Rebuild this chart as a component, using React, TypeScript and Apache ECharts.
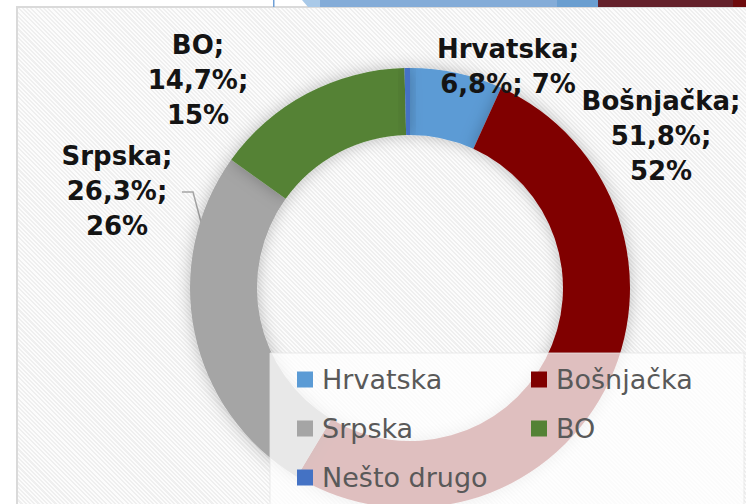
import React, { useEffect, useRef } from "react";
import * as echarts from "echarts";

const categories = ["Hrvatska", "Bošnjačka", "Srpska", "BO", "Nešto drugo"];
const values = [6.8, 51.8, 26.3, 14.7, 0.4];
const colors = ["#5B9BD5", "#800000", "#A5A5A5", "#548235", "#4472C4"];
// label block centres (layout only)
const labelPos: (number[] | null)[] = [[508, 66], [661, 136], [117, 191], [198, 80], null];

const fmt = (v: number) => v.toFixed(1).replace(".", ",");

export default function App() {
  const ref = useRef<HTMLDivElement>(null);
  useEffect(() => {
    if (!ref.current) return;
    const chart = echarts.init(ref.current, undefined, { renderer: "svg" });
    chart.setOption({
      animation: false,
      backgroundColor: "transparent",
      graphic: [
        { type: "rect", z: 0, shape: { x: 273, y: 0, width: 1.5, height: 7 }, style: { fill: "#6f9fd6" } },
        { type: "polygon", z: 0, shape: { points: [[302, 0], [320, 0], [320, 7], [308, 7]] }, style: { fill: "#a9c9e8" } },
        { type: "rect", z: 0, shape: { x: 320, y: 0, width: 237, height: 7 }, style: { fill: "#84acd8" } },
        { type: "rect", z: 0, shape: { x: 557, y: 0, width: 41, height: 7 }, style: { fill: "#6a9ed0" } },
        { type: "rect", z: 0, shape: { x: 598, y: 0, width: 135, height: 7 }, style: { fill: "#64212b" } },
        { type: "rect", z: 0, shape: { x: 733, y: 0, width: 13, height: 7 }, style: { fill: "#6e0b0d" } },
        { type: "rect", z: 3, shape: { x: 270, y: 353, width: 474, height: 160 }, style: { fill: "rgba(255,255,255,0.75)", stroke: "rgba(230,230,230,0.8)", lineWidth: 1 } },
      ],
      legend: {
        z: 5,
        left: 297,
        top: 365,
        width: 460,
        padding: 0,
        orient: "horizontal",
        icon: "rect",
        itemWidth: 16,
        itemHeight: 16,
        itemGap: 20,
        selectedMode: false,
        data: categories,
        textStyle: {
          fontFamily: "DejaVu Sans",
          fontSize: 27,
          color: "#595959",
          lineHeight: 29,
          width: 189,
          padding: [0, 0, 0, 4],
        },
      },
      series: [
        {
          type: "pie",
          center: [410, 288],
          radius: [153, 220],
          startAngle: 90,
          clockwise: true,
          avoidLabelOverlap: false,
          silent: true,
          emphasis: { disabled: true },
          itemStyle: { borderWidth: 0, shadowBlur: 16, shadowColor: "rgba(0,0,0,0.25)" },
          label: {
            show: true,
            position: "outside",
            fontFamily: "DejaVu Sans",
            fontWeight: "bold",
            fontSize: 26,
            lineHeight: 35,
            color: "#141414",
            align: "center",
            formatter: (p: any) =>
              `${p.name};\n${fmt(p.value)}%;${p.dataIndex === 0 ? " " : "\n"}${Math.round(p.percent)}%`,
          },
          labelLine: { show: false, lineStyle: { color: "#a5a5a5", width: 1.5 } },
          labelLayout: (params: any) => {
            const i = params.dataIndex;
            const pos = labelPos[i];
            if (!pos) return {};
            const r: any = { x: pos[0], y: pos[1], align: "center", verticalAlign: "middle" };
            if (i === 2) r.labelLinePoints = [[201, 222], [193, 192], [182, 192]];
            return r;
          },
          data: categories.map((name, i) => ({
            name,
            value: values[i],
            itemStyle: { color: colors[i] },
            label: i === 4 ? { show: false } : undefined,
            labelLine: i === 2 ? { show: true, length: 10, length2: 10 } : undefined,
          })),
        },
      ],
    });
    return () => chart.dispose();
  }, []);

  return (
    <div style={{ position: "fixed", left: 0, top: 0, width: 746, height: 504, background: "#fff", overflow: "hidden" }}>
      <div
        style={{
          position: "absolute",
          left: 16,
          top: 6,
          width: 740,
          height: 510,
          borderLeft: "2px solid #dadada",
          borderTop: "2px solid #dadada",
          background:
            "repeating-linear-gradient(45deg, #efefef 0px, #efefef 1.5px, #fcfcfc 1.5px, #fcfcfc 3px)",
        }}
      />
      <div ref={ref} style={{ position: "absolute", left: 0, top: 0, width: 746, height: 504 }} />
    </div>
  );
}
